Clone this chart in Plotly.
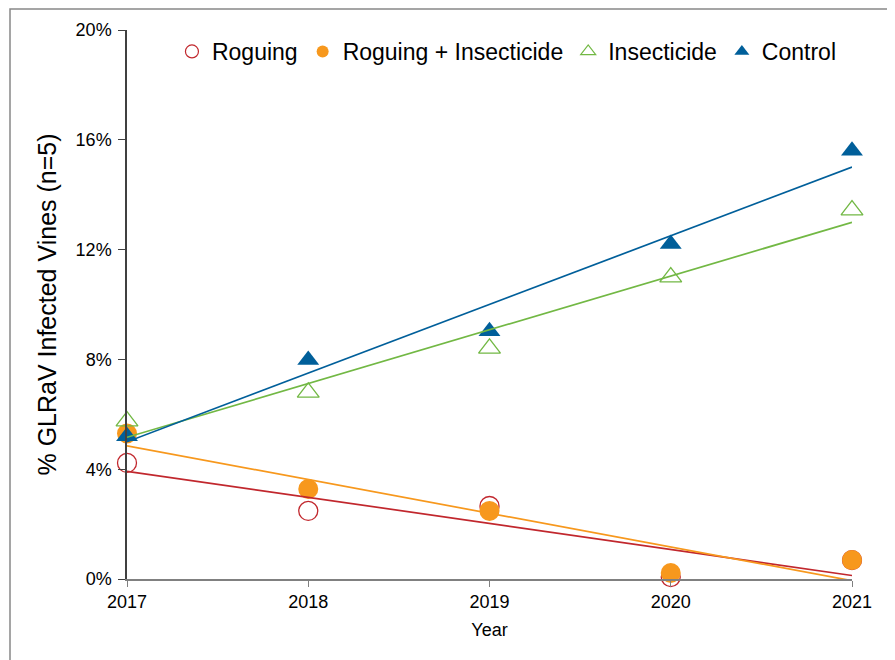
import numpy as np
import plotly.graph_objects as go

years = [2017, 2018, 2019, 2020, 2021]
roguing = [4.23, 2.48, 2.66, 0.07, 0.69]
roguing_insecticide = [5.30, 3.28, 2.48, 0.22, 0.69]
insecticide = [5.75, 6.80, 8.40, 11.00, 13.44]
control = [5.20, 7.98, 9.03, 12.20, 15.60]

series_names = ["Roguing", "Roguing + Insecticide", "Insecticide", "Control"]
y_ticks = [0, 4, 8, 12, 16, 20]
y_tick_labels = ["0%", "4%", "8%", "12%", "16%", "20%"]

RED = "#C1272D"
ORANGE = "#F7981D"
GREEN = "#72B844"
BLUE = "#005F9A"

FONT = "Liberation Sans, Arial, sans-serif"

series = [
    (series_names[0], roguing, RED, "circle-open", 19, 13, 1.3),
    (series_names[1], roguing_insecticide, ORANGE, "circle", 20, 12, 0),
    (series_names[2], insecticide, GREEN, "triangle-up-open", 19, 13, 1.3),
    (series_names[3], control, BLUE, "triangle-up", 19, 13, 0),
]

fig = go.Figure()
xs = np.array(years, dtype=float)

# markers
for name, vals, col, sym, size, lsize, lw in series:
    fig.add_trace(go.Scatter(
        x=years, y=vals, mode="markers", name=name, showlegend=False,
        marker=dict(symbol=sym, size=size, color=col,
                    line=dict(color=col, width=lw)),
        cliponaxis=False,
    ))

# linear trendlines
for name, vals, col, sym, size, lsize, lw in series:
    m, b = np.polyfit(xs, np.array(vals), 1)
    fig.add_trace(go.Scatter(
        x=[years[0], years[-1]], y=[m * years[0] + b, m * years[-1] + b],
        mode="lines", line=dict(color=col, width=1.7),
        showlegend=False, hoverinfo="skip", cliponaxis=False,
    ))

# legend entries (small symbols)
for name, vals, col, sym, size, lsize, lw in series:
    fig.add_trace(go.Scatter(
        x=[None], y=[None], mode="markers", name=name,
        marker=dict(symbol=sym, size=lsize, color=col,
                    line=dict(color=col, width=1.2 if "open" in sym else 0)),
    ))

W, H = 887, 652
L, R, T, B = 119, 43, 22, 81
PW, PH = W - L - R, H - T - B

fig.update_layout(
    width=W, height=H,
    margin=dict(l=L, r=R, t=T, b=B),
    paper_bgcolor="white", plot_bgcolor="white",
    font=dict(family=FONT, color="black"),
    showlegend=True,
    legend=dict(
        orientation="h", x=0.062, y=1.0, xanchor="left", yanchor="top",
        font=dict(size=23, family=FONT, color="black"),
        bgcolor="rgba(0,0,0,0)", itemwidth=30, tracegroupgap=0,
    ),
    xaxis=dict(
        range=[2017, 2021], tickmode="array", tickvals=years,
        ticktext=[str(y) for y in years],
        showgrid=False, zeroline=False,
        showline=True, linecolor="#808080", linewidth=1.5,
        ticks="outside", ticklen=6, tickcolor="#808080", tickwidth=1.2,
        tickfont=dict(size=18, family=FONT, color="black"),
        title=dict(text="Year", font=dict(size=18, family=FONT, color="black"), standoff=12),
    ),
    yaxis=dict(
        range=[0, 20], tickmode="array", tickvals=y_ticks, ticktext=y_tick_labels,
        showgrid=False, zeroline=False,
        showline=True, linecolor="#404040", linewidth=1.5,
        ticks="outside", ticklen=7, tickcolor="#404040", tickwidth=1.2,
        ticklabelstandoff=3,
        tickfont=dict(size=18, family=FONT, color="black"),
        title=dict(text="% GLRaV Infected Vines (n=5)",
                   font=dict(size=25, family=FONT, color="black"), standoff=12),
    ),
)

# outer chart border
fig.add_shape(type="rect", xref="paper", yref="paper",
              x0=(2 - L) / PW, x1=(882 - L) / PW,
              y0=(PH - 700) / PH, y1=(PH + T - 1) / PH,
              line=dict(color="#888888", width=1.5), fillcolor="rgba(0,0,0,0)",
              layer="below")

fig.write_html("out.html")
